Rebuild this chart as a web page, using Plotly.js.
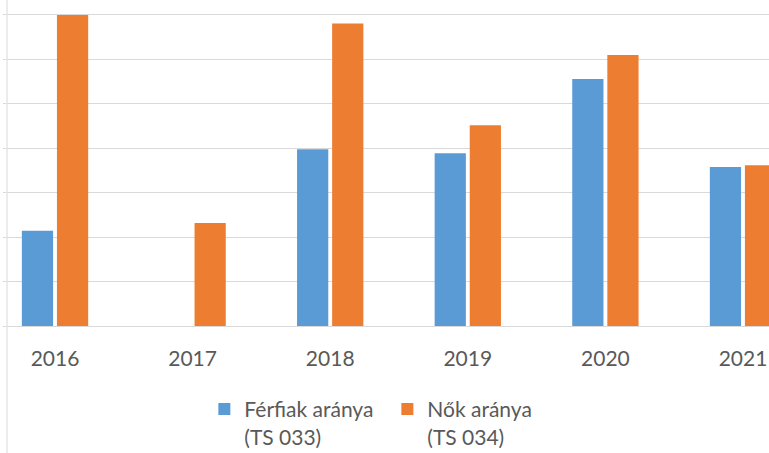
<!DOCTYPE html>
<html>
<head>
<meta charset="utf-8">
<script src="https://cdn.plot.ly/plotly-3.0.1.min.js"></script>
<style>html,body{margin:0;padding:0;background:#fff;}#chart{width:769px;height:453px;}</style>
</head>
<body>
<div id="chart"></div>
<script>
var years = ["2016", "2017", "2018", "2019", "2020", "2021"];
var menShare = [2.145, null, 3.98, 3.89, 5.56, 3.58];
var womenShare = [7.0, 2.32, 6.81, 4.52, 6.10, 3.62];
var seriesNames = ["Férfiak aránya<br>(TS 033)", "Nők aránya<br>(TS 034)"];

var textColor = "#595959";
var fontFam = "Lato, 'Open Sans', sans-serif";

var traces = [
  {type: "bar", x: years, y: menShare, name: seriesNames[0],
   marker: {color: "#5b9bd5", line: {width: 0}}, hoverinfo: "x+y"},
  {type: "bar", x: years, y: womenShare, name: seriesNames[1],
   marker: {color: "#ed7d31", line: {width: 0}}, hoverinfo: "x+y"}
];

var layout = {
  width: 769, height: 453,
  margin: {l: 7, r: 0, t: 0, b: 127, pad: 0, autoexpand: false},
  paper_bgcolor: "#ffffff", plot_bgcolor: "#ffffff",
  barmode: "group", bargap: 0.49, bargroupgap: 0.11,
  font: {family: fontFam, color: textColor, size: 21},
  xaxis: {
    type: "category", range: [-0.349, 5.189], automargin: false,
    showgrid: false, zeroline: false, showline: false, ticks: "",
    tickfont: {family: fontFam, size: 21, color: textColor},
    ticklabelstandoff: 18
  },
  yaxis: {
    range: [0, 7.337], dtick: 1, tick0: 0, automargin: false,
    showgrid: true, gridcolor: "#d9d9d9", gridwidth: 1,
    zeroline: true, zerolinecolor: "#d9d9d9", zerolinewidth: 1,
    showticklabels: false, ticks: "outside", ticklen: 3, tickcolor: "#d9d9d9", tickwidth: 1,
    showline: false
  },
  showlegend: true,
  legend: {
    orientation: "h", x: 0.259, xanchor: "left", y: -0.193, yanchor: "top",
    valign: "top", entrywidth: 138, entrywidthmode: "pixels",
    font: {family: fontFam, size: 21, color: textColor},
    bgcolor: "rgba(0,0,0,0)", tracegroupgap: 0
  },
  shapes: [
    {type: "line", xref: "paper", yref: "paper", x0: 0, x1: 0, y0: -0.39, y1: 1,
     line: {color: "#d9d9d9", width: 1}}
  ]
};

Plotly.newPlot("chart", traces, layout, {staticPlot: true, displayModeBar: false});
</script>
</body>
</html>
